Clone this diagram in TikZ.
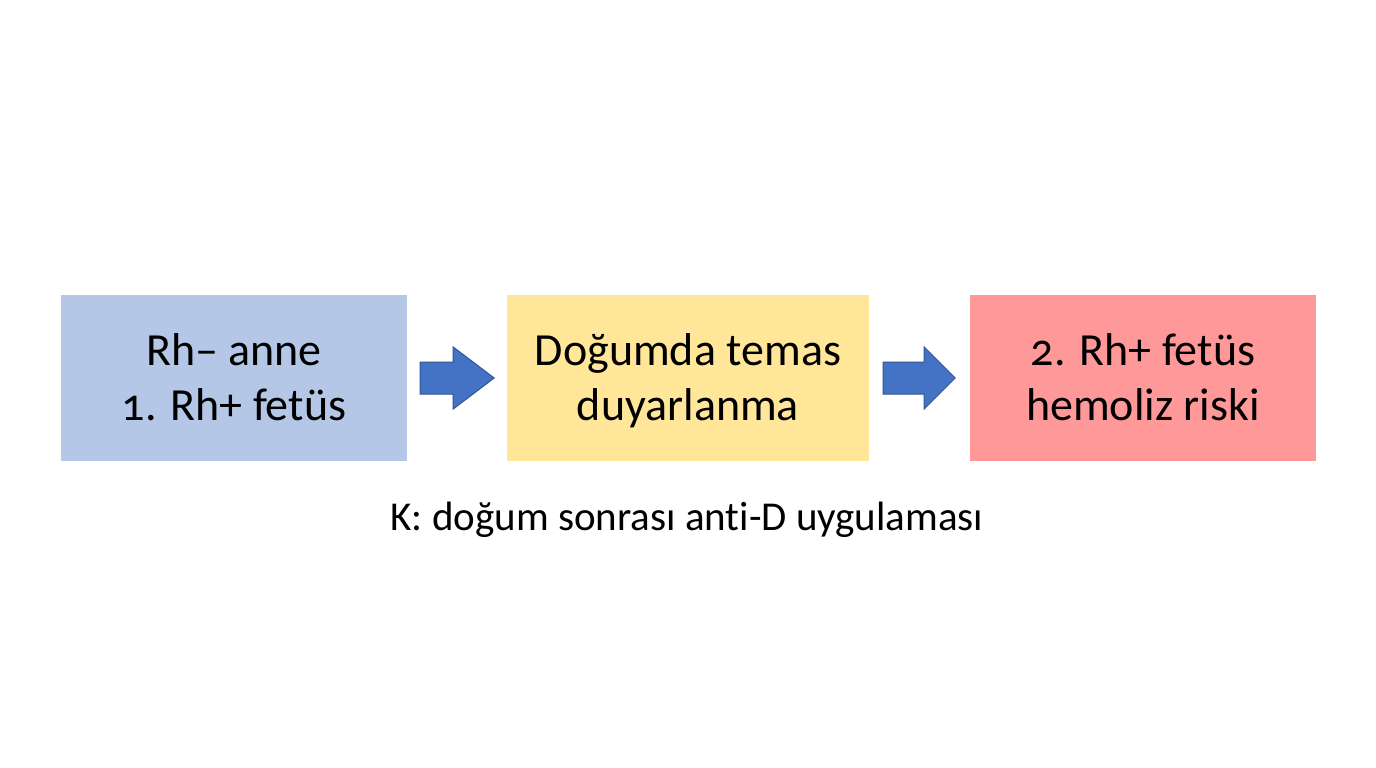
\documentclass[tikz,border=0pt]{standalone}
\usepackage{fontspec}
\setmainfont{Carlito}[Numbers=OldStyle,Ligatures=NoCommon]
\usetikzlibrary{calc}
\definecolor{boxblue}{HTML}{B4C7E7}
\definecolor{boxyellow}{HTML}{FFE699}
\definecolor{boxred}{HTML}{FF9999}
\definecolor{arrowfill}{HTML}{4472C4}
\definecolor{arrowline}{HTML}{2F5597}
\newcommand{\topstrut}{\rule{0pt}{39pt}}
\newcommand{\botstrut}{\rule[-9pt]{0pt}{9pt}}
\begin{document}
\begin{tikzpicture}[x=1pt,y=-1pt,
  stagebox/.style={draw=none,inner sep=0pt,minimum height=166pt,align=center,
    font=\fontsize{46}{55}\selectfont,text=black},
  fatarrow/.style={fill=arrowfill,draw=arrowline,line width=1pt,line join=miter}]
\useasboundingbox[fill=white] (0,0) rectangle (1376,768);
\node[stagebox,fill=boxblue,minimum width=346pt] (a) at (234,378) {\topstrut Rh– anne\\1. Rh+ fetüs\botstrut};
\node[stagebox,fill=boxyellow,minimum width=362pt] (b) at (688,378) {\topstrut Doğumda temas\\duyarlanma\botstrut};
\node[stagebox,fill=boxred,minimum width=346pt] (c) at (1143,378) {\topstrut 2. Rh+ fetüs\\hemoliz riski\botstrut};
\node[font=\fontsize{41}{46}\selectfont,anchor=base] (k) at (687,530) {K: doğum sonrası anti-D uygulaması};
% arrows between boxes
\coordinate (a1) at ($(a.east)+(13,0)$);
\coordinate (b1) at ($(b.east)+(14,0)$);
\draw[fatarrow] (a1) ++(0,-16) -- ++(33,0) -- ++(0,-15) -- ++(41,31) -- ++(-41,31) -- ++(0,-15) -- ++(-33,0) -- cycle;
\draw[fatarrow] (b1) ++(0,-16) -- ++(41,0) -- ++(0,-15) -- ++(31,31) -- ++(-31,31) -- ++(0,-15) -- ++(-41,0) -- cycle;
\end{tikzpicture}
\end{document}
